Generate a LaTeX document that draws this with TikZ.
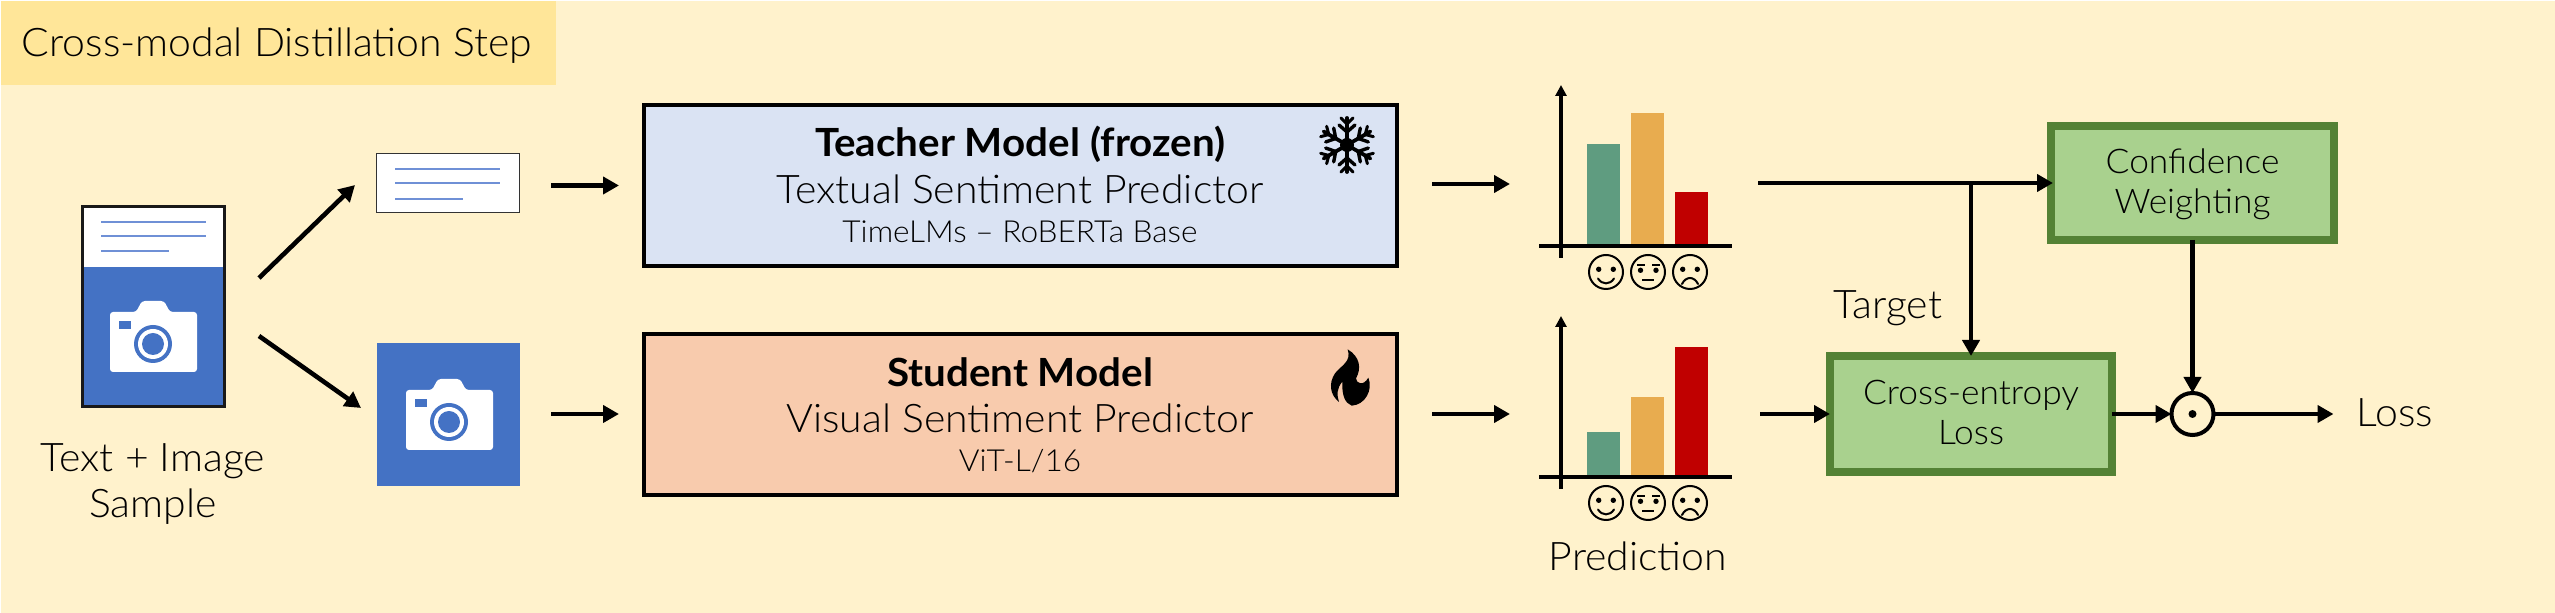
\documentclass[tikz,border=0pt]{standalone}
\usepackage{fontspec}
\setmainfont{Lato}[UprightFont=* Light,BoldFont=* Bold,FakeStretch=1.04]
\usetikzlibrary{arrows.meta}
\definecolor{bgc}{HTML}{FFF2CC}
\definecolor{titlec}{HTML}{FFE699}
\definecolor{bluec}{HTML}{4472C4}
\definecolor{linec}{HTML}{6F90D6}
\definecolor{teachc}{HTML}{DAE3F3}
\definecolor{studc}{HTML}{F8CBAD}
\definecolor{greenf}{HTML}{A9D18E}
\definecolor{greend}{HTML}{548235}
\definecolor{barg}{HTML}{5F9C80}
\definecolor{baro}{HTML}{E8AC4F}
\definecolor{barr}{HTML}{C00000}
\tikzset{
 x=0.5pt,y=-0.5pt,
 lbl/.style={anchor=base,inner sep=0pt,outer sep=0pt,font=\fontsize{19.7}{22}\selectfont},
 lblsmall/.style={lbl,font=\fontsize{15.2}{18}\selectfont},
 lblgreen/.style={lbl,font=\fontsize{17}{20}\selectfont},
 lblbold/.style={lbl,font=\fontsize{19.4}{22}\selectfont\bfseries},
 arr/.style={-{Triangle[length=8pt,width=8.5pt]},line width=2.3pt,black},
 modelbox/.style={draw=black,line width=2pt,minimum width=376.5pt,minimum height=80.5pt,inner sep=0pt,outer sep=0pt},
 lossbox/.style={draw=greend,fill=greenf,line width=4pt,inner sep=0pt,outer sep=0pt},
 axisline/.style={line width=1.75pt,black},
 txtline/.style={line width=1pt,linec},
 face/.style={line width=1pt,black},
 camera/.pic={
  \fill[white,rounded corners=1.5pt] (-43,-32)--(-17,-32)--(-11,-43)--(11,-43)--(17,-32)--(44,-32)--(44,28)--(-43,28)--cycle;
  \fill[bluec] (-34,-23) rectangle (-22,-15);
  \fill[bluec] (0,0) circle[radius=19];
  \fill[white] (0,0) circle[radius=15];
  \fill[bluec] (0,0) circle[radius=11];
 },
 happy/.pic={
  \draw[face] (0,0) circle[radius=17];
  \fill (-7.3,-2.7) circle[radius=2.7] (7.3,-2.7) circle[radius=2.7];
  \draw[face,line cap=round] (-8,6.5) .. controls (-4,13) and (4,13) .. (8,6.5);
 },
 neutral/.pic={
  \draw[face] (0,0) circle[radius=17];
  \fill (-7.5,-1.7) circle[radius=2.7] (8,-1.7) circle[radius=2.7];
  \draw[face] (-11,-7)--(-3,-7) (4,-7)--(12,-7) (-6,7.7)--(6,7.7);
 },
 sad/.pic={
  \draw[face] (0,0) circle[radius=17];
  \fill (-7.3,-2.7) circle[radius=2.7] (7.3,-2.7) circle[radius=2.7];
  \draw[face,line cap=round] (-8,12) .. controls (-4,4) and (4,4) .. (8,12);
 },
 chartaxes/.pic={
  \draw[axisline,-{Triangle[length=5.5pt,width=5.5pt]}] (0,173)--(0,0);
  \draw[axisline] (-22,161)--(171,161);
 },
}
\begin{document}
\begin{tikzpicture}
\useasboundingbox (0,0) rectangle (2555,613);
\fill[white] (0,0) rectangle (2555,613);
\fill[bgc] (1,1) rectangle (2555,613);
\fill[titlec] (1,1) rectangle (556,85);
\node[lbl] (title) at (277,57) {Cross-modal Distillation Step};

% sample document
\fill[bluec] (81,205) rectangle (225,408);
\fill[white] (81,205) rectangle (225,267);
\draw[txtline] (101,222)--(206,222) (101,236)--(206,236) (101,251)--(169,251);
\pic at (153,344) {camera};
\node[draw=black!90,line width=1.5pt,minimum width=71pt,minimum height=100pt,inner sep=0pt,outer sep=0pt] (doc) at (153,306.5) {};
\node[lbl] (sample1) at (153,472) {Text + Image};
\node[lbl] (sample2) at (153,518) {Sample};

% split parts
\node[draw=black!80,fill=white,line width=0.7pt,minimum width=71.5pt,minimum height=29.5pt,inner sep=0pt,outer sep=0pt] (txt) at (448,183) {};
\draw[txtline] (395,169.5)--(500,169.5) (395,183)--(500,183) (395,199)--(463,199);
\node[fill=bluec,minimum width=71.5pt,minimum height=71.5pt,inner sep=0pt,outer sep=0pt] (img) at (448.5,414.5) {};
\pic at (449,422) {camera};

\coordinate (d1s) at (259,278); \coordinate (d1e) at (355,185);
\coordinate (d2s) at (259,336); \coordinate (d2e) at (361,408);
\draw[arr] (d1s)--(d1e);
\draw[arr] (d2s)--(d2e);
\coordinate (t1s) at (551,185.5); \coordinate (t1e) at (619,185.5);
\coordinate (i1s) at (551,414); \coordinate (i1e) at (619,414);
\draw[arr] (t1s)--(t1e);
\draw[arr] (i1s)--(i1e);

% models
\node[modelbox,fill=teachc] (teacher) at (1020.5,185.5) {};
\node[modelbox,fill=studc] (student) at (1020.5,414.5) {};
\node[lblbold] (t1) at (1020,157) {Teacher Model (frozen)};
\node[lbl] (t2) at (1020,204) {Textual Sentiment Predictor};
\node[lblsmall] (t3) at (1020,243) {TimeLMs – RoBERTa Base};
\node[lblbold] (s1) at (1020,387) {Student Model};
\node[lbl] (s2) at (1020,433) {Visual Sentiment Predictor};
\node[lblsmall] (s3) at (1020,472) {ViT-L/16};

% snowflake
\begin{scope}[shift={(1347,145)}]
 \fill (0,0) circle[radius=7];
 \foreach \a in {30,90,150,210,270,330}{
  \begin{scope}[rotate=\a]
   \draw[line width=1.9pt,line cap=round] (0,0)--(27,0);
   \draw[line width=1.7pt,line cap=round] (20,-8)--(13,0)--(20,8);
   \draw[line width=1.5pt,line cap=round] (27,-6)--(21,0)--(27,6);
  \end{scope}
 }
\end{scope}

% flame
\begin{scope}[shift={(1280,340)},x=0.16667pt,y=-0.16667pt]
 \fill (203,28) .. controls (240,50) and (245,85) .. (228,115)
  .. controls (228,130) and (250,140) .. (265,113)
  .. controls (280,150) and (255,195) .. (215,197)
  .. controls (195,190) and (185,165) .. (187,125)
  .. controls (170,145) and (170,165) .. (177,186)
  .. controls (150,165) and (145,130) .. (165,100)
  .. controls (185,75) and (215,65) .. (203,28) -- cycle;
\end{scope}

% arrows to charts
\coordinate (t2s) at (1432,184); \coordinate (t2e) at (1510,184);
\coordinate (s2s) at (1432,414); \coordinate (s2e) at (1510,414);
\draw[arr] (t2s)--(t2e);
\draw[arr] (s2s)--(s2e);

% top chart
\fill[barg] (1587,144) rectangle (1620,245);
\fill[baro] (1631,113) rectangle (1664,245);
\fill[barr] (1675,192) rectangle (1708,245);
\pic at (1561,85) {chartaxes};
\pic at (1606,272) {happy};
\pic at (1648,272) {neutral};
\pic at (1690,272) {sad};

% bottom chart
\fill[barg] (1587,432) rectangle (1620,476);
\fill[baro] (1631,397) rectangle (1664,476);
\fill[barr] (1675,347) rectangle (1708,476);
\pic at (1561,316) {chartaxes};
\pic at (1606,503) {happy};
\pic at (1648,503) {neutral};
\pic at (1690,503) {sad};
\node[lbl] (pred) at (1638,571) {Prediction};

% loss part
\node[lossbox,minimum width=141.5pt,minimum height=57pt] (conf) at (2192.5,183) {};
\node[lossbox,minimum width=141pt,minimum height=58pt] (ce) at (1971,414) {};
\node[lblgreen] (c1) at (2192.5,174) {Confidence};
\node[lblgreen] (c2) at (2192.5,214) {Weighting};
\node[lblgreen] (e1) at (1971,405) {Cross-entropy};
\node[lblgreen] (e2) at (1971,445) {Loss};
\node[draw=black,fill=bgc,circle,line width=2pt,minimum size=21pt,inner sep=0pt,outer sep=0pt] (dot) at (2192.5,414) {};
\fill (dot.center) circle[radius=4];
\node[lbl] (target) at (1888,319) {Target};
\node[lbl] (loss) at (2395,427) {Loss};

\coordinate (tl) at (1758,183);
\coordinate (sl) at (1760,414);
\coordinate (lossend) at (2333.5,414);
\draw[arr,shorten >=-1pt] (tl)--(conf.west);
\draw[arr] (ce.north |- tl)--(ce.north);
\draw[arr] (sl)--(ce.west);
\draw[arr] (conf.south)--(dot.north);
\draw[arr] (ce.east)--(dot.west);
\draw[arr] (dot.east)--(lossend);
\end{tikzpicture}
\end{document}
